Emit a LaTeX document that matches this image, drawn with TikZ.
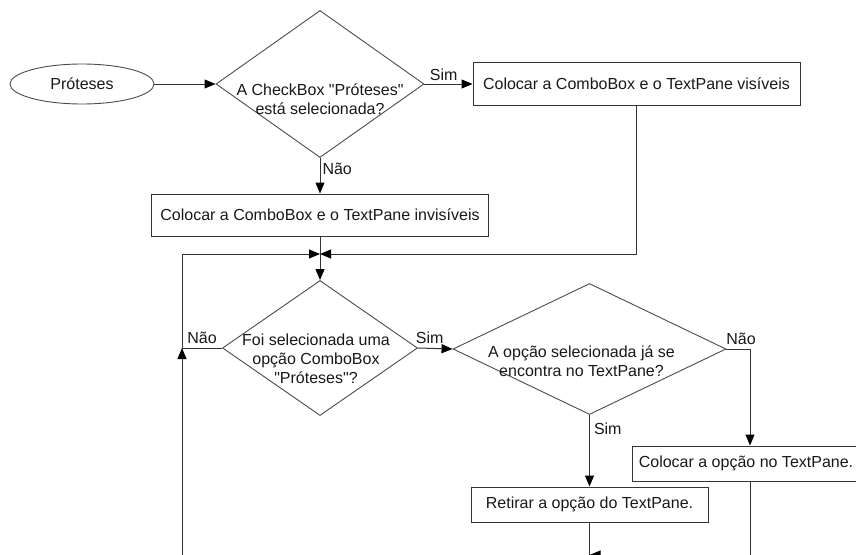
\documentclass[tikz,border=0pt]{standalone}
\usepackage{fontspec}
\setmainfont{Liberation Sans}[Ligatures=TeXOff]
\usetikzlibrary{shapes.geometric,arrows.meta}

% Text of a decision: lines centred on the diamond, shifted by (#1,#2),
% without letting the text change the size of the diamond.
\newcommand{\dlines}[3]{\makebox[0pt]{\kern#1\kern#1\raisebox{#2}[0pt][0pt]{\begin{tabular}[t]{@{}c@{}}#3\end{tabular}}}}

\begin{document}
\begin{tikzpicture}[x=1pt,y=-1pt,
  every node/.style={font=\fontsize{16}{19}\selectfont, text=black!90},
  flow/.style={draw=black!80, line width=1pt},
  arr/.style={flow, -{Triangle[length=11pt,width=9pt,fill=black,color=black]}},
  procbox/.style={draw=black!80, line width=1pt, rectangle, inner sep=0pt, fill=white},
  decision/.style={draw=black!70, line width=0.9pt, diamond, inner sep=0pt},
  terminal/.style={draw=black!70, line width=0.9pt, ellipse, inner sep=0pt},
  lbl/.style={inner sep=0pt}
]
\useasboundingbox (0,0) rectangle (856,554);
\clip (0,0) rectangle (856,554);
\fill[white] (0,0) rectangle (856,554);

% shapes
\node[terminal, minimum width=144pt, minimum height=40pt] (start) at (82,84) {Próteses};
\node[decision, minimum width=208pt, minimum height=147pt] (d1) at (320,84)
  {\dlines{0pt}{-11pt}{A CheckBox "Próteses"\\está selecionada?}};
\node[procbox, minimum width=327pt, minimum height=43pt] (b1) at (636.5,84)
  {Colocar a ComboBox e o TextPane visíveis};
\node[procbox, minimum width=337pt, minimum height=42pt] (b2) at (320,215)
  {Colocar a ComboBox e o TextPane invisíveis};
\node[decision, minimum width=195pt, minimum height=135pt] (d2) at (320,348)
  {\dlines{-4pt}{3pt}{Foi selecionada uma\\opção ComboBox\\"Próteses"?}};
\node[decision, minimum width=273pt, minimum height=131pt] (d3) at (589.5,349)
  {\dlines{-8pt}{-8pt}{A opção selecionada já se\\encontra no TextPane?}};
\node[procbox, minimum width=237pt, minimum height=35pt] (b3) at (589.5,504.5)
  {Retirar a opção do TextPane.};
\node[procbox, minimum width=228pt, minimum height=35pt] (b4) at (746,463.5)
  {Colocar a opção no TextPane.};

% junctions and bends
\coordinate (j1) at (320,254);
\coordinate (kn) at (182,348);
\coordinate (rx) at (750,0);
\coordinate (jb) at (589.5,555);
\coordinate (low) at (589.5,590);

% connectors
\draw[arr] (start.east) -- (d1.west);
\draw[arr] (d1.east) -- node[lbl, above=3pt, pos=0.4] {Sim} (b1.west);
\draw[arr] (d1.south) -- node[lbl, right=2pt, pos=0.3] {Não} (b2.north);
\draw[arr] (b1.south) |- (j1);
\draw[flow] (b2.south) -- (j1);
\draw[arr] (j1) -- (d2.north);
\draw[flow] (d2.west) -- node[lbl, above=4pt, pos=0.5] {Não} (kn);
\draw[arr] (kn) |- (j1);
\draw[arr] (d2.east) -- node[lbl, above=4pt, pos=0.34] {Sim} (d3.west);
\draw[arr] (d3.south) -- node[lbl, right=4pt, pos=0.2] {Sim} (b3.north);
\draw[arr] (d3.east) -| node[lbl, above=4pt, pos=0.31] {Não} (rx |- b4.north);
\draw[arr] (rx |- b4.south) |- (jb);
\draw[flow] (b3.south) -- (jb);
\draw[arr] (jb) -- (low) -| (kn);
\end{tikzpicture}
\end{document}
